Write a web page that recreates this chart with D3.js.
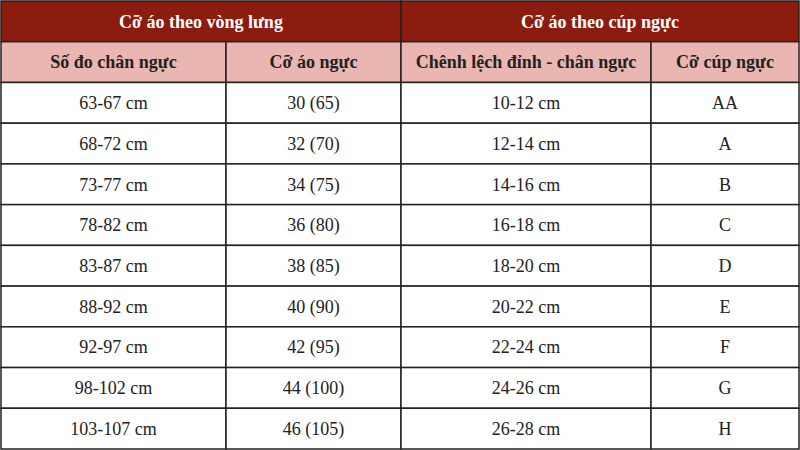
<!DOCTYPE html>
<html><head><meta charset="utf-8">
<script src="https://cdn.jsdelivr.net/npm/d3@7"></script>
<style>body{margin:0;background:#fff} text{font-family:"Liberation Serif","Times New Roman","DejaVu Serif",serif}</style></head>
<body><svg id="c" width="800" height="450"></svg>
<script>
const groupHeaders = ["Cỡ áo theo vòng lưng", "Cỡ áo theo cúp ngực"];
const columnHeaders = ["Số đo chân ngực", "Cỡ áo ngực", "Chênh lệch đỉnh - chân ngực", "Cỡ cúp ngực"];
const underbust = ["63-67 cm","68-72 cm","73-77 cm","78-82 cm","83-87 cm","88-92 cm","92-97 cm","98-102 cm","103-107 cm"];
const bandSize = ["30 (65)","32 (70)","34 (75)","36 (80)","38 (85)","40 (90)","42 (95)","44 (100)","46 (105)"];
const difference = ["10-12 cm","12-14 cm","14-16 cm","16-18 cm","18-20 cm","20-22 cm","22-24 cm","24-26 cm","26-28 cm"];
const cupSize = ["AA","A","B","C","D","E","F","G","H"];

const svg = d3.select("#c");
const colEdges = [1, 226, 401, 651, 799];
const rowsData = d3.range(9).map(i => [underbust[i], bandSize[i], difference[i], cupSize[i]]);
const y = d3.scaleLinear().domain([0, 11]).range([1, 449]);
const border = "#222";

[[0,2],[2,4]].forEach((g, gi) => {
  const x0 = colEdges[g[0]], x1 = colEdges[g[1]];
  svg.append("rect").attr("x", x0).attr("y", y(0)).attr("width", x1 - x0).attr("height", y(1) - y(0))
    .attr("fill", "#8c1b10").attr("stroke", border).attr("stroke-width", 1.5);
  svg.append("text").attr("x", (x0 + x1) / 2).attr("y", (y(0) + y(1)) / 2).attr("dy", "0.35em")
    .attr("text-anchor", "middle").attr("fill", "#fff").attr("font-weight", "bold")
    .attr("font-size", 18).text(groupHeaders[gi]);
});
columnHeaders.forEach((h, i) => {
  const x0 = colEdges[i], x1 = colEdges[i + 1];
  svg.append("rect").attr("x", x0).attr("y", y(1)).attr("width", x1 - x0).attr("height", y(2) - y(1))
    .attr("fill", "#e9b6b1").attr("stroke", border).attr("stroke-width", 1.5);
  svg.append("text").attr("x", (x0 + x1) / 2).attr("y", (y(1) + y(2)) / 2).attr("dy", "0.35em")
    .attr("text-anchor", "middle").attr("fill", "#222").attr("font-weight", "bold")
    .attr("font-size", 18).text(h);
});
rowsData.forEach((row, r) => {
  row.forEach((v, i) => {
    const x0 = colEdges[i], x1 = colEdges[i + 1];
    svg.append("rect").attr("x", x0).attr("y", y(r + 2)).attr("width", x1 - x0).attr("height", y(r + 3) - y(r + 2))
      .attr("fill", "#fff").attr("stroke", border).attr("stroke-width", 1.5);
    svg.append("text").attr("x", (x0 + x1) / 2).attr("y", (y(r + 2) + y(r + 3)) / 2).attr("dy", "0.35em")
      .attr("text-anchor", "middle").attr("fill", "#222")
      .attr("font-size", 18).text(v);
  });
});
</script></body></html>
